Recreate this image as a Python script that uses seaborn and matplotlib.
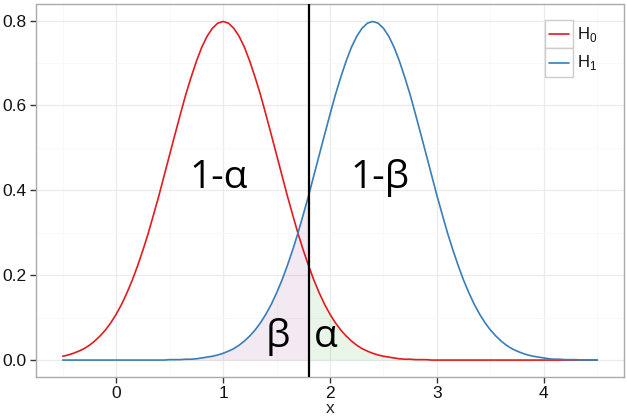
import numpy as np
import pandas as pd
import matplotlib
matplotlib.use('Agg')
import matplotlib.pyplot as plt
import seaborn as sns
from matplotlib.patches import Rectangle
from matplotlib.lines import Line2D

# values (density of H0 and H1, step 0.05 on x)
x_vals = [round(-0.5 + 0.05 * i, 2) for i in range(101)]
h0_vals = [0.009, 0.012, 0.016, 0.021, 0.027, 0.035, 0.045, 0.057, 0.071, 0.088,
           0.108, 0.131, 0.158, 0.188, 0.222, 0.259, 0.299, 0.343, 0.388, 0.436,
           0.484, 0.532, 0.579, 0.625, 0.666, 0.704, 0.737, 0.763, 0.782, 0.794,
           0.798, 0.794, 0.782, 0.763, 0.737, 0.704, 0.666, 0.625, 0.579, 0.532,
           0.484, 0.436, 0.388, 0.343, 0.299, 0.259, 0.222, 0.188, 0.158, 0.131,
           0.108, 0.088, 0.071, 0.057, 0.045, 0.035, 0.027, 0.021, 0.016, 0.012,
           0.009, 0.007, 0.005, 0.003, 0.002, 0.002, 0.001, 0.001, 0.001, 0.000,
           0.000, 0.000, 0.000, 0.000, 0.000, 0.000, 0.000, 0.000, 0.000, 0.000,
           0.000, 0.000, 0.000, 0.000, 0.000, 0.000, 0.000, 0.000, 0.000, 0.000,
           0.000, 0.000, 0.000, 0.000, 0.000, 0.000, 0.000, 0.000, 0.000, 0.000,
           0.000]
h1_vals = [0.000, 0.000, 0.000, 0.000, 0.000, 0.000, 0.000, 0.000, 0.000, 0.000,
           0.000, 0.000, 0.000, 0.000, 0.000, 0.000, 0.000, 0.000, 0.000, 0.000,
           0.001, 0.001, 0.001, 0.002, 0.002, 0.003, 0.005, 0.007, 0.009, 0.012,
           0.016, 0.021, 0.027, 0.035, 0.045, 0.057, 0.071, 0.088, 0.108, 0.131,
           0.158, 0.188, 0.222, 0.259, 0.299, 0.343, 0.388, 0.436, 0.484, 0.532,
           0.579, 0.625, 0.666, 0.704, 0.737, 0.763, 0.782, 0.794, 0.798, 0.794,
           0.782, 0.763, 0.737, 0.704, 0.666, 0.625, 0.579, 0.532, 0.484, 0.436,
           0.388, 0.343, 0.299, 0.259, 0.222, 0.188, 0.158, 0.131, 0.108, 0.088,
           0.071, 0.057, 0.045, 0.035, 0.027, 0.021, 0.016, 0.012, 0.009, 0.007,
           0.005, 0.003, 0.002, 0.002, 0.001, 0.001, 0.001, 0.000, 0.000, 0.000,
           0.000]
cutoff = 1.8
series_names = ['H0', 'H1']
legend_labels = [r'H$_\mathregular{0}$', r'H$_\mathregular{1}$']
x_ticks = [0, 1, 2, 3, 4]
y_ticks = [0.0, 0.2, 0.4, 0.6, 0.8]

red = '#E41A1C'
blue = '#377EB8'

df = pd.DataFrame({
    'x': x_vals * 2,
    'y': h0_vals + h1_vals,
    'hyp': [series_names[0]] * len(x_vals) + [series_names[1]] * len(x_vals),
})

sns.set_style('white')
plt.rcParams['font.family'] = ['Liberation Sans', 'DejaVu Sans']

fig = plt.figure(figsize=(6.27, 4.19), dpi=100)
ax = fig.add_axes([36 / 627, 1 - 377 / 419, 588 / 627, 372.5 / 419])

# shaded areas: beta under H1 left of cutoff, alpha under H0 right of cutoff
xa = np.array(x_vals)
ax.fill_between(xa, 0, h1_vals, where=xa <= cutoff + 1e-9, color='#984EA3',
                alpha=0.12, lw=0, zorder=1)
ax.fill_between(xa, 0, h0_vals, where=xa >= cutoff - 1e-9, color='#4DAF4A',
                alpha=0.12, lw=0, zorder=1)

sns.lineplot(data=df, x='x', y='y', hue='hyp', palette=[red, blue],
             legend=False, lw=1.2, ax=ax, zorder=3)
ax.axvline(cutoff, color='black', lw=1.6, zorder=4)

ax.set_xlim(-0.75, 4.75)
ax.set_ylim(-0.0399, 0.838)
ax.set_xticks(x_ticks)
ax.set_yticks(y_ticks)
ax.set_yticklabels(['%.1f' % v for v in y_ticks])
ax.set_xticks([-0.5, 0.5, 1.5, 2.5, 3.5, 4.5], minor=True)
ax.set_yticks([0.1, 0.3, 0.5, 0.7], minor=True)
ax.grid(True, which='major', color='#ebebeb', lw=0.9, zorder=0)
ax.grid(True, which='minor', color='#f7f7f7', lw=0.6, zorder=0)
ax.set_axisbelow(True)
ax.tick_params(which='major', length=4, width=1, color='#333333',
               labelsize=12.5, labelcolor='#111111', direction='out', pad=2.5,
               bottom=True, left=True)
ax.tick_params(which='minor', length=0)
for s in ax.spines.values():
    s.set_color('#aaaaaa')
    s.set_linewidth(1.0)
ax.set_xlabel('x', fontsize=12.5, labelpad=0)
ax.set_ylabel('')

font_big = dict(family=['Open Sans', 'DejaVu Sans'], fontsize=28, color='black',
                ha='center', va='baseline', zorder=5)
ax.text(0.96, 0.405, '1-α', **font_big)
ax.text(2.47, 0.405, '1-β', **font_big)
ax.text(1.51, 0.03, 'β', **font_big)
ax.text(1.96, 0.03, 'α', **font_big)

# legend drawn with keys in grey boxes (ggplot look)
key_x0, key_x1 = (545 - 36) / 588, (573 - 36) / 588
rows = [(20, 48.5), (48.5, 77)]
for (top, bot), col, lab in zip(rows, [red, blue], legend_labels):
    y0 = (377 - bot) / 372.5
    y1 = (377 - top) / 372.5
    ax.add_patch(Rectangle((key_x0, y0), key_x1 - key_x0, y1 - y0,
                           transform=ax.transAxes, facecolor='white',
                           edgecolor='#cccccc', lw=1.0, zorder=6))
    ym = (y0 + y1) / 2
    ax.add_line(Line2D([key_x0 + 0.006, key_x1 - 0.006], [ym, ym],
                       transform=ax.transAxes, color=col, lw=1.2, zorder=7))
    ax.text(key_x1 + 0.007, ym, lab, transform=ax.transAxes, fontsize=12,
            ha='left', va='center', color='#111111', zorder=7)

fig.savefig('out.png', dpi=100)
